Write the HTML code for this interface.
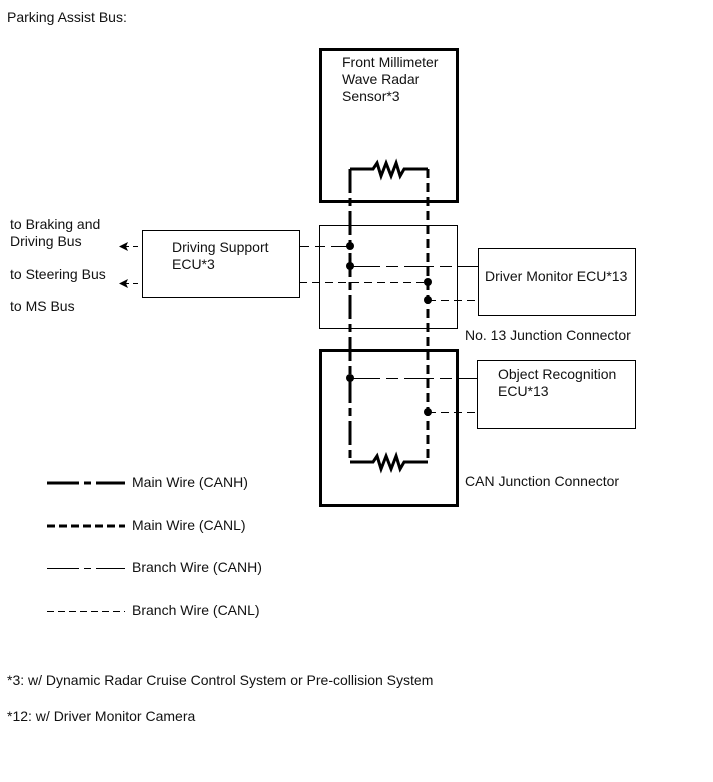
<!DOCTYPE html>
<html><head><meta charset="utf-8"><style>
html,body{margin:0;padding:0;background:#fff;}
svg{display:block;}
text{font-family:"Liberation Sans",Arial,sans-serif;font-size:14px;fill:#111;}
</style></head><body>
<svg width="713" height="782" viewBox="0 0 713 782" xmlns="http://www.w3.org/2000/svg">
<text x="7" y="22">Parking Assist Bus:</text>

<rect x="320.5" y="49.5" width="137" height="152" fill="none" stroke="#000" stroke-width="3"/>
<text x="342" y="67">Front Millimeter</text>
<text x="342" y="84">Wave Radar</text>
<text x="342" y="101">Sensor*3</text>

<rect x="319.5" y="225.5" width="138" height="103" fill="none" stroke="#000" stroke-width="1"/>
<text x="465" y="340">No. 13 Junction Connector</text>

<rect x="320.5" y="350.5" width="137" height="155" fill="none" stroke="#000" stroke-width="3"/>
<text x="465" y="486">CAN Junction Connector</text>

<rect x="142.5" y="230.5" width="157" height="67" fill="none" stroke="#000" stroke-width="1"/>
<text x="172" y="252">Driving Support</text>
<text x="172" y="269">ECU*3</text>

<rect x="478.5" y="248.5" width="157" height="67" fill="none" stroke="#000" stroke-width="1"/>
<text x="485" y="281">Driver Monitor ECU*13</text>

<rect x="477.5" y="360.5" width="158" height="68" fill="none" stroke="#000" stroke-width="1"/>
<text x="498" y="379">Object Recognition</text>
<text x="498" y="396">ECU*13</text>

<text x="10" y="229">to Braking and</text>
<text x="10" y="246">Driving Bus</text>
<text x="10" y="279">to Steering Bus</text>
<text x="10" y="311">to MS Bus</text>

<path d="M350,169 H373 L377,163 L381,176 L386,163 L391,176 L396,163 L400,176 L404,169 H428" fill="none" stroke="#000" stroke-width="3"/>
<path d="M350,462 H373 L377,456 L381,469 L386,456 L391,469 L396,456 L400,469 L404,462 H428" fill="none" stroke="#000" stroke-width="3"/>

<line x1="350" y1="169" x2="350" y2="462" stroke="#000" stroke-width="3" stroke-dasharray="24 5 8 5"/>
<line x1="428" y1="169" x2="428" y2="462" stroke="#000" stroke-width="3" stroke-dasharray="9 5"/>

<line x1="299" y1="246.5" x2="350" y2="246.5" stroke="#000" stroke-width="1" stroke-dasharray="10 6 10 6 20 0"/>
<line x1="350" y1="266.5" x2="478" y2="266.5" stroke="#000" stroke-width="1" stroke-dasharray="30 6 12 6"/>
<line x1="299" y1="282.5" x2="428" y2="282.5" stroke="#000" stroke-width="1" stroke-dasharray="8 5"/>
<line x1="428" y1="300.5" x2="478" y2="300.5" stroke="#000" stroke-width="1" stroke-dasharray="8 5"/>
<line x1="350" y1="378.5" x2="477" y2="378.5" stroke="#000" stroke-width="1" stroke-dasharray="30 6 12 6"/>
<line x1="428" y1="412.5" x2="477" y2="412.5" stroke="#000" stroke-width="1" stroke-dasharray="8 5"/>

<line x1="124" y1="246.5" x2="142" y2="246.5" stroke="#000" stroke-width="1" stroke-dasharray="5 4"/>
<line x1="124" y1="283.5" x2="142" y2="283.5" stroke="#000" stroke-width="1" stroke-dasharray="5 4"/>
<path d="M119,246.5 L128,242 L126,246.5 L128,251 Z" fill="#000"/>
<path d="M119,283.5 L128,279 L126,283.5 L128,288 Z" fill="#000"/>

<g fill="#000">
<circle cx="350" cy="246" r="4"/>
<circle cx="350" cy="266" r="4"/>
<circle cx="428" cy="282" r="4"/>
<circle cx="428" cy="300" r="4"/>
<circle cx="350" cy="378" r="4"/>
<circle cx="428" cy="412" r="4"/>
</g>

<line x1="47" y1="483" x2="125" y2="483" stroke="#000" stroke-width="3" stroke-dasharray="32 5 7 5"/>
<line x1="47" y1="526" x2="125" y2="526" stroke="#000" stroke-width="3" stroke-dasharray="8 4"/>
<line x1="47" y1="568.5" x2="125" y2="568.5" stroke="#000" stroke-width="1" stroke-dasharray="32 5 7 5"/>
<line x1="47" y1="611.5" x2="125" y2="611.5" stroke="#000" stroke-width="1" stroke-dasharray="7 4"/>
<text x="132" y="487">Main Wire (CANH)</text>
<text x="132" y="530">Main Wire (CANL)</text>
<text x="132" y="572">Branch Wire (CANH)</text>
<text x="132" y="615">Branch Wire (CANL)</text>

<text x="7" y="685">*3: w/ Dynamic Radar Cruise Control System or Pre-collision System</text>
<text x="7" y="721">*12: w/ Driver Monitor Camera</text>
</svg>
</body></html>
